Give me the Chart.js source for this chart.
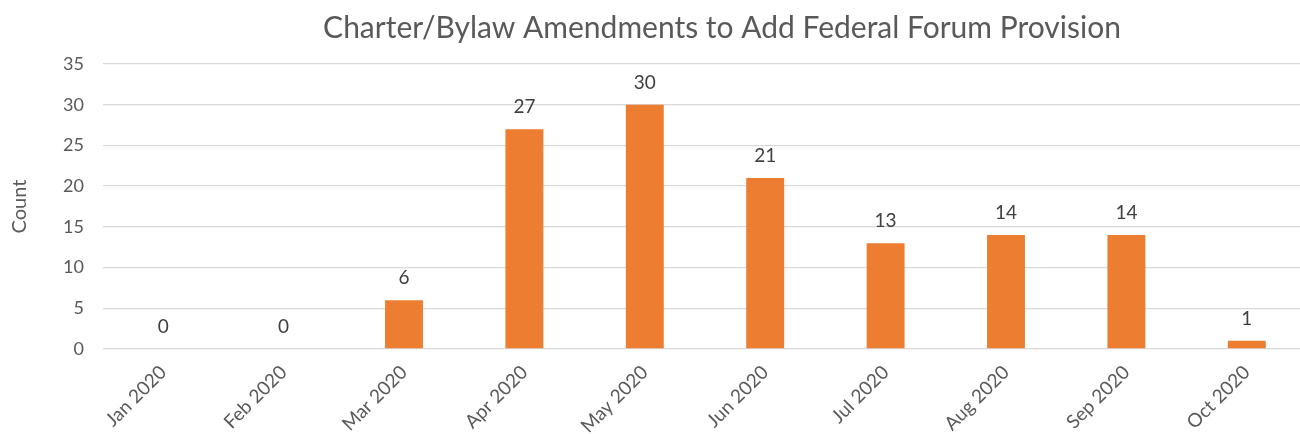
<!DOCTYPE html>
<html><head><meta charset="utf-8">
<script src="https://cdn.jsdelivr.net/npm/chart.js@4.4.0/dist/chart.umd.min.js"></script>
<style>html,body{margin:0;padding:0;background:#fff;overflow:hidden;width:1300px;height:434px}#wrap{width:1310px;height:434px;position:relative}</style>
</head><body><div id="wrap"><canvas id="c" width="1310" height="434"></canvas></div>
<script>
const titleText = "Charter/Bylaw Amendments to Add Federal Forum Provision";
const categories = ["Jan 2020","Feb 2020","Mar 2020","Apr 2020","May 2020","Jun 2020","Jul 2020","Aug 2020","Sep 2020","Oct 2020"];
const counts = [0,0,6,27,30,21,13,14,14,1];
const yAxisTitle = "Count";
const FONT = "Lato, 'Open Sans', sans-serif";

const titlePlugin = {
  id: 'customTitle',
  afterDraw(chart) {
    const ctx = chart.ctx;
    ctx.save();
    ctx.font = "30px " + FONT;
    ctx.fillStyle = "#595959";
    ctx.textAlign = "center";
    ctx.textBaseline = "middle";
    ctx.fillText(titleText, 722, 28);
    ctx.restore();
  }
};
const labelPlugin = {
  id: 'valueLabels',
  afterDatasetsDraw(chart) {
    const ctx = chart.ctx;
    const meta = chart.getDatasetMeta(0);
    ctx.save();
    ctx.font = "19px " + FONT;
    ctx.fillStyle = "#404040";
    ctx.textAlign = "center";
    ctx.textBaseline = "middle";
    meta.data.forEach((bar, i) => {
      ctx.fillText(String(counts[i]), bar.x, bar.y - 22);
    });
    ctx.restore();
  }
};

new Chart(document.getElementById('c'), {
  type: 'bar',
  data: { labels: categories, datasets: [{ data: counts, backgroundColor: '#ED7D31', barPercentage: 0.63, categoryPercentage: 0.5 }] },
  options: {
    responsive: false, animation: false,
    layout: { padding: { top: 64, right: 3, left: 0, bottom: 0 } },
    plugins: { legend: { display: false }, tooltip: { enabled: false }, title: { display: false } },
    scales: {
      x: {
        grid: { display: false, drawTicks: false },
        border: { display: false },
        ticks: { color: '#595959', font: { family: FONT, size: 19 }, minRotation: 45, maxRotation: 45, padding: 12, autoSkip: false },
        afterFit(s) { s.height = 85; }
      },
      y: {
        min: 0, max: 35,
        grid: { color: '#d9d9d9', lineWidth: 1.3, drawTicks: false },
        border: { display: false },
        ticks: { stepSize: 5, color: '#595959', font: { family: FONT, size: 18 }, padding: 19 },
        title: { display: true, text: yAxisTitle, color: '#595959', font: { family: FONT, size: 20 }, padding: { top: 8, bottom: 0 } },
        afterFit(s) { s.width = 103; }
      }
    }
  },
  plugins: [titlePlugin, labelPlugin]
});
</script></body></html>
